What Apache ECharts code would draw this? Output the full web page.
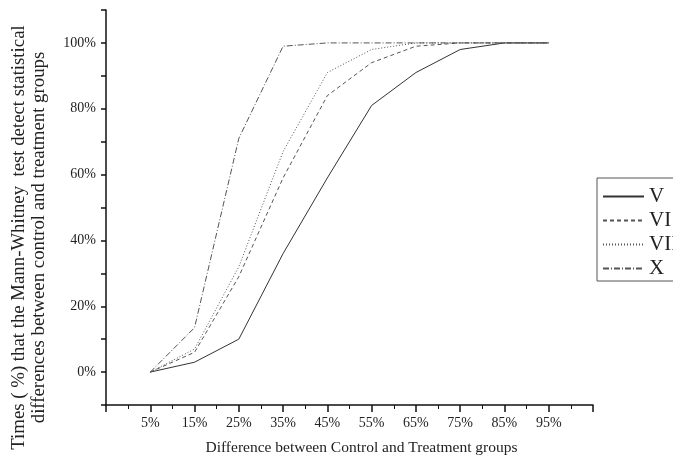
<!DOCTYPE html>
<html>
<head>
<meta charset="utf-8">
<script src="https://cdn.jsdelivr.net/npm/echarts@6/dist/echarts.min.js"></script>
<style>
  html, body { margin: 0; padding: 0; background: #fff; }
  #chart { width: 673px; height: 463px; }
</style>
</head>
<body>
<div id="chart"></div>
<script>
const differences = [5, 15, 25, 35, 45, 55, 65, 75, 85, 95];
const seriesNames = ["V", "VI", "VII", "X"];
const valuesV = [0, 3, 10, 36, 59, 81, 91, 98, 100, 100];
const valuesVI = [0, 6, 29, 59, 84, 94, 99, 100, 100, 100];
const valuesVII = [0, 7, 32, 67, 91, 98, 100, 100, 100, 100];
const valuesX = [0, 13.5, 71, 99, 100, 100, 100, 100, 100, 100];
const xTickLabels = ["5%", "15%", "25%", "35%", "45%", "55%", "65%", "75%", "85%", "95%"];
const yTickLabels = ["0%", "20%", "40%", "60%", "80%", "100%"];

const FONT = "Liberation Serif";
const INK = "#222";

const chart = echarts.init(document.getElementById("chart"), null, { renderer: "canvas" });

function toPairs(values) {
  return differences.map((d, i) => [d, values[i]]);
}

function lineSeries(name, values, type, color) {
  return {
    name,
    type: "line",
    symbol: "none",
    silent: true,
    data: toPairs(values),
    lineStyle: { color, width: 1, type },
    itemStyle: { color },
  };
}

const option = {
  animation: false,
  backgroundColor: "#fff",
  textStyle: { fontFamily: FONT },
  grid: { left: 106, right: 80, top: 10, bottom: 58, outerBoundsMode: "none", containLabel: false },
  legend: {
    orient: "vertical",
    left: 597,
    top: 178,
    padding: [8, 40, 2, 5],
    borderColor: "#555",
    borderWidth: 1,
    itemWidth: 41,
    itemHeight: 10,
    itemGap: 3,
    data: seriesNames,
    itemStyle: { opacity: 0 },
    textStyle: { fontFamily: FONT, fontSize: 21, color: INK },
  },
  xAxis: {
    type: "value",
    min: -5,
    max: 105,
    interval: 10,
    name: "Difference between Control and Treatment groups",
    nameLocation: "middle",
    nameGap: 35,
    nameTextStyle: { fontFamily: FONT, fontSize: 15.5, color: INK, padding: [0, 0, 0, 24] },
    axisLine: { onZero: false, lineStyle: { color: "#111", width: 1.5 } },
    axisTick: { length: 7, lineStyle: { color: "#111", width: 1.5 } },
    minorTick: { show: true, splitNumber: 2, length: 4, lineStyle: { color: "#111", width: 1 } },
    splitLine: { show: false },
    axisLabel: {
      margin: 11,
      fontFamily: FONT,
      fontSize: 14,
      color: INK,
      formatter: (v) => {
        const i = differences.indexOf(v);
        return i >= 0 ? xTickLabels[i] : "";
      },
    },
  },
  yAxis: {
    type: "value",
    min: -10,
    max: 110,
    interval: 10,
    name: "Times ( %) that the Mann-Whitney  test detect statistical\ndifferences between control and treatment groups",
    nameLocation: "middle",
    nameGap: 57,
    nameTextStyle: { fontFamily: FONT, fontSize: 18.8, color: INK, lineHeight: 20, padding: [0, 60, 0, 0] },
    axisLine: { onZero: false, lineStyle: { color: "#111", width: 1.5 } },
    axisTick: { length: 5, lineStyle: { color: "#111", width: 1.5 } },
    splitLine: { show: false },
    axisLabel: {
      margin: 10,
      fontFamily: FONT,
      fontSize: 14,
      color: INK,
      formatter: (v) => {
        if (v < 0 || v > 100 || v % 20 !== 0) return "";
        return yTickLabels[v / 20];
      },
    },
  },
  series: [
    lineSeries("V", valuesV, "solid", "#333"),
    lineSeries("VI", valuesVI, [4, 3], "#555"),
    lineSeries("VII", valuesVII, [1, 2], "#555"),
    lineSeries("X", valuesX, [6, 2, 1, 2], "#555"),
  ],
};

chart.setOption(option);
</script>
</body>
</html>
